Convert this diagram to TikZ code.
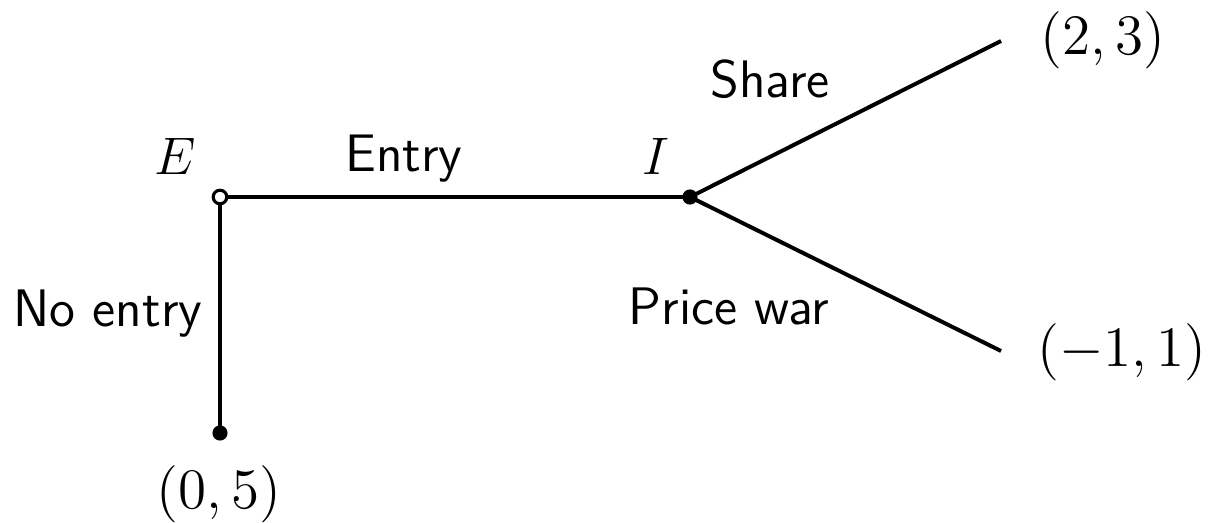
\documentclass[tikz,border=0pt]{standalone}
\newcommand{\payofftext}[1]{\scalebox{1.083}{\large$#1$}}
\begin{document}
\begin{tikzpicture}[x=0.2273pt,y=-0.2273pt,line width=0.9pt,
  opendot/.style={circle,draw,fill=white,line width=0.7pt,inner sep=0pt,minimum size=3.1pt},
  dot/.style={circle,fill=black,inner sep=0pt,minimum size=3.45pt},
  player/.style={anchor=base,inner sep=0pt,font=\large},
  move/.style={anchor=base,inner sep=0pt,font=\sffamily\large},
  payoff/.style={inner sep=0pt}]
\useasboundingbox (0,0) rectangle (1216,523);

% decision nodes and terminal points
\node[dot] (I) at (690,197) {};
\node[dot] (N) at (220,433) {};
\coordinate (S) at (1001,41);
\coordinate (P) at (1001,351);

% branches
\draw (I.center) -- (S);
\draw (I.center) -- (P);
\draw (220,197) -- (I.center);
\draw (220,197) -- (N.center);
\node[opendot] (E) at (220,197) {};

% players
\node[player] (lE) at (175,175) {$E$};
\node[player] (lI) at (656,175) {$I$};

% moves
\node[move] (mEntry) at (404,172) {Entry};
\node[move] (mNo) at (108,327) {No entry};
\node[move] (mShare) at (770,98) {Share};
\node[move] (mWar) at (729,325) {Price war};

% payoffs
\node[payoff] (pS) at (1103,40) {\payofftext{(2,3)}};
\node[payoff] (pP) at (1122,352) {\payofftext{(-1,1)}};
\node[payoff] (pN) at (219,494) {\payofftext{(0,5)}};
\end{tikzpicture}
\end{document}
